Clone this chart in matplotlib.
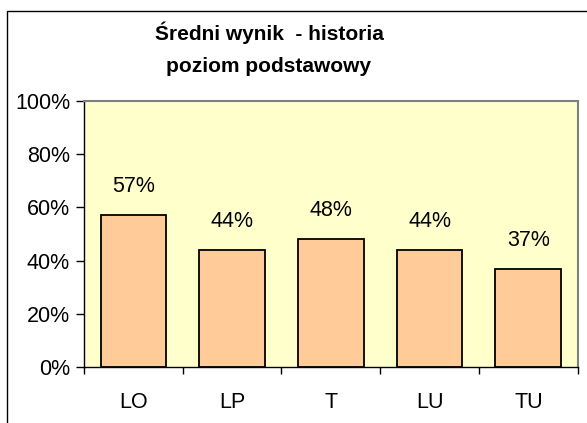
import matplotlib.pyplot as plt
from matplotlib.patches import Rectangle
from matplotlib.ticker import FixedLocator, PercentFormatter

# mean score per school type
categories = ["LO", "LP", "T", "LU", "TU"]
scores = [0.57, 0.44, 0.48, 0.44, 0.37]
yticks = [0.0, 0.2, 0.4, 0.6, 0.8, 1.0]
title = "Średni wynik  - historia\npoziom podstawowy"

plt.rcParams['font.family'] = ['Liberation Sans', 'DejaVu Sans']

W, H = 587, 423
fig = plt.figure(figsize=(W / 100, H / 100), dpi=100)
fig.patch.set_facecolor("white")

# outer frame (only left and top edges fall inside the canvas)
fig.patches.append(Rectangle((7 / W, -0.5), 2.0, 1.5 - 11 / H,
                             transform=fig.transFigure, fill=False,
                             ec="black", lw=1.0))

ax = fig.add_axes([84 / W, 1 - 367.3 / H, (577.7 - 84) / W, (367.3 - 100.7) / H])
ax.set_facecolor("#FFFFCC")

x = range(len(categories))
bars = ax.bar(x, scores, width=0.665, color="#FFCC99", ec="black", lw=1.3, zorder=2)

for xi, v in zip(x, scores):
    ax.annotate(f"{round(v * 100)}%", (xi, v), xytext=(0, 16.5),
                textcoords="offset points", ha="center", va="baseline",
                fontsize=15.5)

ax.set_xlim(-0.5, len(categories) - 0.5)
ax.set_ylim(0, 1)
ax.set_yticks(yticks)
ax.yaxis.set_major_formatter(PercentFormatter(1.0, decimals=0))
ax.tick_params(axis="y", length=6, width=1, pad=4, labelsize=15.5)

ax.set_xticks(list(x))
ax.set_xticklabels(categories)
ax.xaxis.set_minor_locator(FixedLocator([i - 0.5 for i in range(len(categories) + 1)]))
ax.tick_params(axis="x", which="major", length=0, pad=18, labelsize=15.5)
ax.tick_params(axis="x", which="minor", length=5, width=1)

for side in ("top", "right"):
    ax.spines[side].set_color("#808080")
    ax.spines[side].set_linewidth(1.5)
for side in ("left", "bottom"):
    ax.spines[side].set_color("black")
    ax.spines[side].set_linewidth(1.0)

fig.text(269 / W, 1 - 49 / H, title, ha="center", va="center",
         fontsize=15, fontweight="bold", linespacing=1.85)

fig.savefig("out.png", dpi=100)
